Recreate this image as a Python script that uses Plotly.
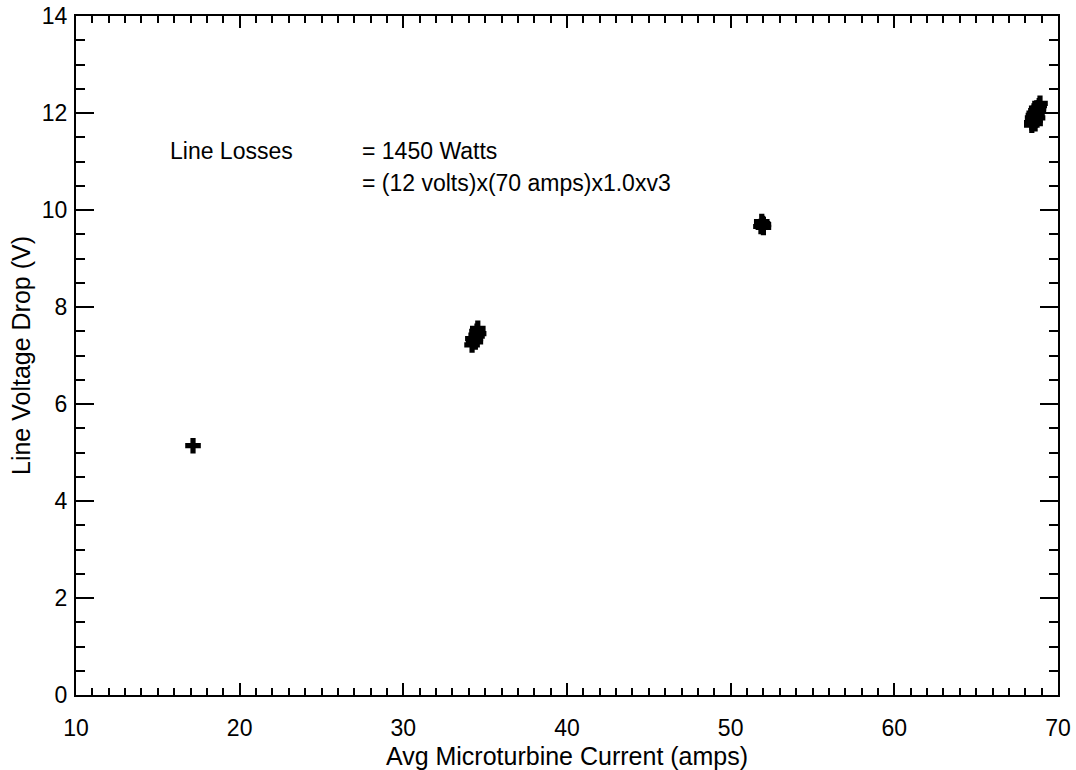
import plotly.graph_objects as go

# Data (Avg current in amps, line voltage drop in V)
current = [17.15,
           34.2, 34.3, 34.4, 34.5, 34.5, 34.6, 34.4, 34.55, 34.35, 34.45, 34.25,
           51.85, 52.0, 51.9, 52.0, 51.95,
           68.4, 68.5, 68.6, 68.7, 68.8, 68.85, 68.5, 68.6, 68.7, 68.4, 68.8, 68.9,
           68.45, 68.55, 68.65, 68.75, 68.6, 68.7]
voltage = [5.14,
           7.22, 7.3, 7.35, 7.4, 7.5, 7.45, 7.28, 7.56, 7.32, 7.42, 7.35,
           9.66, 9.7, 9.76, 9.64, 9.72,
           11.8, 11.85, 11.9, 12.0, 12.05, 12.15, 11.95, 11.85, 11.95, 11.75, 12.1, 12.2,
           11.9, 12.0, 12.05, 11.9, 11.78, 12.1]

x_range = [10, 70]
y_range = [0, 14]
x_ticks = [10, 20, 30, 40, 50, 60, 70]
y_ticks = [0, 2, 4, 6, 8, 10, 12, 14]

label_col1 = "Line Losses"
label_line1 = "= 1450 Watts"
label_line2 = "= (12 volts)x(70 amps)x1.0xv3"

FONT = "Liberation Sans, Arial, sans-serif"
FS = 23
FT = 25

fig = go.Figure()
fig.add_trace(go.Scatter(
    x=current, y=voltage, mode="markers",
    marker=dict(symbol="cross", size=13, color="black", line=dict(width=0)),
    showlegend=False, hoverinfo="x+y"))

axis_common = dict(
    showgrid=False, zeroline=False, showline=True, linecolor="black", linewidth=2,
    mirror="allticks", ticks="inside", tickcolor="black", tickwidth=2,
    tickfont=dict(family=FONT, size=FS, color="black"), automargin=False,
)

fig.update_xaxes(range=x_range, tickvals=x_ticks, ticklen=12, ticklabelstandoff=11,
                 minor=dict(dtick=1, ticks="inside", ticklen=7, tickcolor="black", tickwidth=2),
                 title=dict(text="Avg Microturbine Current (amps)",
                            font=dict(family=FONT, size=FT, color="black"), standoff=12),
                 **axis_common)
fig.update_yaxes(range=y_range, tickvals=y_ticks, ticklen=18, ticklabelstandoff=2,
                 minor=dict(dtick=0.5, ticks="inside", ticklen=9, tickcolor="black", tickwidth=2),
                 title=dict(text="Line Voltage Drop (V)",
                            font=dict(family=FONT, size=FT, color="black"), standoff=4),
                 **axis_common)

ann_font = dict(family=FONT, size=FS, color="black")
fig.add_annotation(x=15.62, y=11.21, text=label_col1, showarrow=False,
                   xanchor="left", yanchor="middle", font=ann_font)
fig.add_annotation(x=27.35, y=11.21, text=label_line1, showarrow=False,
                   xanchor="left", yanchor="middle", font=ann_font)
fig.add_annotation(x=27.35, y=10.56, text=label_line2, showarrow=False,
                   xanchor="left", yanchor="middle", font=ann_font)

fig.update_layout(
    width=1076, height=770,
    margin=dict(l=76, r=18, t=16, b=75),
    paper_bgcolor="white", plot_bgcolor="white",
    font=dict(family=FONT, color="black"),
)

fig.write_html("out.html")
